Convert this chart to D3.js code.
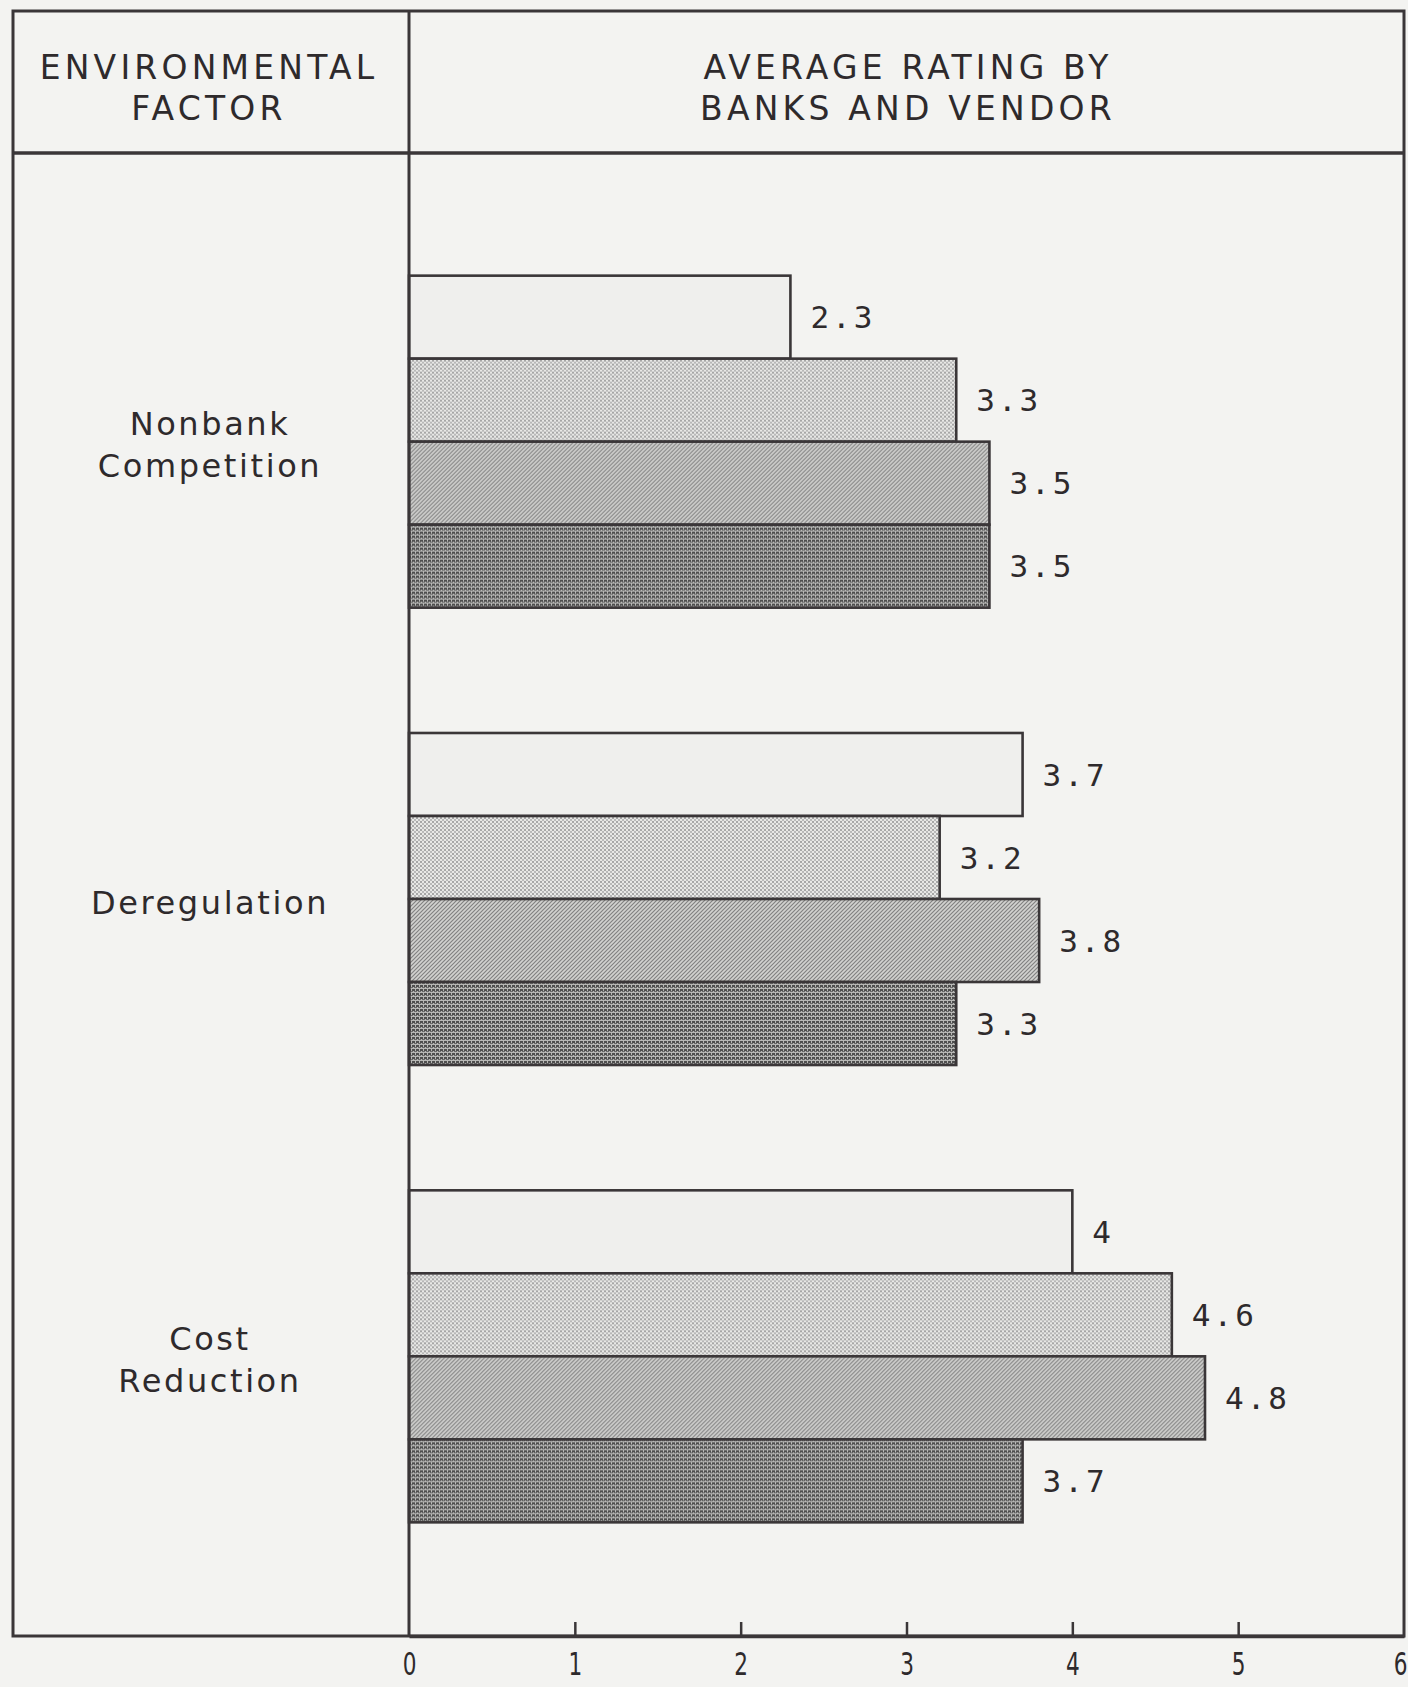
<!DOCTYPE html>
<html>
<head>
<meta charset="utf-8">
<script src="https://cdn.jsdelivr.net/npm/d3@7"></script>
<style>
  html, body { margin: 0; padding: 0; background: #f3f3f1; }
  svg { display: block; }
</style>
</head>
<body>
<svg id="chart" width="1408" height="1687"></svg>
<script>
// Environmental factors rated by banks and vendor
const categories = ["Nonbank Competition", "Deregulation", "Cost Reduction"];
const categoryLines = [["Nonbank", "Competition"], ["Deregulation"], ["Cost", "Reduction"]];
const seriesKeys = ["s1", "s2", "s3", "s4"];
const series1 = [2.3, 3.7, 4];
const series2 = [3.3, 3.2, 4.6];
const series3 = [3.5, 3.8, 4.8];
const series4 = [3.5, 3.3, 3.7];
const tickValues = [0, 1, 2, 3, 4, 5, 6];
const headerLeft = ["ENVIRONMENTAL", "FACTOR"];
const headerRight = ["AVERAGE RATING BY", "BANKS AND VENDOR"];

const seriesValues = [series1, series2, series3, series4];
const rows = categories.map((c, i) => ({
  category: c,
  lines: categoryLines[i],
  values: seriesKeys.map((k, j) => ({ key: k, value: seriesValues[j][i] }))
}));

const ink = "#3a3638";
const textInk = "#2e2a2c";
const svg = d3.select("#chart");

// layout
const frame = { left: 13, top: 11, right: 1404, bottom: 1636 };
const divX = 409;
const headerY = 153;

// fill textures
const defs = svg.append("defs");
const p2 = defs.append("pattern").attr("id", "fill-s2").attr("patternUnits", "userSpaceOnUse")
  .attr("width", 4).attr("height", 4);
p2.append("rect").attr("width", 4).attr("height", 4).attr("fill", "#e8e8e6");
p2.append("rect").attr("x", 0).attr("y", 0).attr("width", 2).attr("height", 2).attr("fill", "#a6a6a6");
p2.append("rect").attr("x", 2).attr("y", 2).attr("width", 2).attr("height", 2).attr("fill", "#b8b8b8");

const p3 = defs.append("pattern").attr("id", "fill-s3").attr("patternUnits", "userSpaceOnUse")
  .attr("width", 4).attr("height", 4);
p3.append("rect").attr("width", 4).attr("height", 4).attr("fill", "#d2d2d0");
p3.append("path").attr("d", "M-1,5 L5,-1 M-1,1 L1,-1 M3,5 L5,3")
  .attr("stroke", "#808080").attr("stroke-width", 1.15);

const p4 = defs.append("pattern").attr("id", "fill-s4").attr("patternUnits", "userSpaceOnUse")
  .attr("width", 4).attr("height", 4);
p4.append("rect").attr("width", 4).attr("height", 4).attr("fill", "#b8b8b6");
p4.append("rect").attr("x", 0).attr("y", 0).attr("width", 3).attr("height", 2).attr("fill", "#4e4e4e");
p4.append("rect").attr("x", 2).attr("y", 2).attr("width", 2).attr("height", 1).attr("fill", "#6a6a6a");
p4.append("rect").attr("x", 0).attr("y", 2).attr("width", 1).attr("height", 1).attr("fill", "#6a6a6a");

const fills = { s1: "#efefed", s2: "url(#fill-s2)", s3: "url(#fill-s3)", s4: "url(#fill-s4)" };

// scales
const x = d3.scaleLinear().domain([0, 6]).range([divX, 1404]);
const y0 = d3.scaleBand().domain(categories).range([213, 1585]).paddingInner(0.274).paddingOuter(0.137);
const y1 = d3.scaleBand().domain(seriesKeys).range([0, y0.bandwidth()]).padding(0);

// bars
const groups = svg.append("g").selectAll("g").data(rows).join("g")
  .attr("transform", d => `translate(0,${y0(d.category)})`);

groups.selectAll("rect").data(d => d.values).join("rect")
  .attr("x", x(0))
  .attr("y", d => y1(d.key))
  .attr("width", d => x(d.value) - x(0))
  .attr("height", y1.bandwidth())
  .attr("fill", d => fills[d.key])
  .attr("stroke", ink)
  .attr("stroke-width", 2.6);

groups.selectAll("text.val").data(d => d.values).join("text")
  .attr("class", "val")
  .attr("x", d => x(d.value) + 20)
  .attr("y", d => y1(d.key) + y1.bandwidth() / 2)
  .attr("dy", "0.36em")
  .attr("font-family", "'DejaVu Sans Mono', 'Liberation Mono', monospace")
  .attr("font-size", 31)
  .attr("letter-spacing", 3)
  .attr("fill", textInk)
  .text(d => String(d.value));

// category labels
const catG = svg.append("g").selectAll("text").data(rows).join("text")
  .attr("x", 210)
  .attr("y", d => y0(d.category) + y0.bandwidth() / 2 + 3)
  .attr("text-anchor", "middle")
  .attr("font-family", "'DejaVu Sans', sans-serif")
  .attr("font-size", 32)
  .attr("letter-spacing", 2.6)
  .attr("fill", textInk);
catG.each(function (d) {
  const n = d.lines.length;
  d3.select(this).selectAll("tspan").data(d.lines).join("tspan")
    .attr("x", 210)
    .attr("dy", (l, i) => i === 0 ? `${0.36 - (n - 1) * 0.65}em` : "1.3em")
    .text(l => l);
});

// header text
function header(lines, cx) {
  svg.append("g").selectAll("text").data(lines).join("text")
    .attr("x", cx)
    .attr("y", (l, i) => 67 + i * 41)
    .attr("dy", "0.36em")
    .attr("text-anchor", "middle")
    .attr("font-family", "'DejaVu Sans', sans-serif")
    .attr("font-size", 33)
    .attr("letter-spacing", 4.2)
    .attr("fill", textInk)
    .text(l => l);
}
header(headerLeft, 209);
header(headerRight, 908);

// frame lines
const lines = svg.append("g").attr("stroke", ink).attr("fill", "none");
lines.append("rect")
  .attr("x", frame.left).attr("y", frame.top)
  .attr("width", frame.right - frame.left).attr("height", frame.bottom - frame.top)
  .attr("stroke-width", 3);
lines.append("line").attr("x1", frame.left).attr("x2", frame.right)
  .attr("y1", headerY).attr("y2", headerY).attr("stroke-width", 3.5);
lines.append("line").attr("x1", divX).attr("x2", divX)
  .attr("y1", frame.top).attr("y2", frame.bottom).attr("stroke-width", 3);

// x axis
const axis = d3.axisBottom(x).tickValues(tickValues).tickSizeInner(-14).tickSizeOuter(0).tickPadding(16)
  .tickFormat(d3.format("d"));
const ax = svg.append("g").attr("transform", `translate(0,${frame.bottom})`).call(axis);
ax.select(".domain").attr("stroke", ink).attr("stroke-width", 3.5);
ax.selectAll(".tick line").attr("stroke", ink).attr("stroke-width", 2.5);
ax.selectAll(".tick text")
  .attr("font-family", "'DejaVu Sans Condensed', 'DejaVu Sans', sans-serif")
  .attr("font-size", 32)
  .attr("fill", textInk)
  .attr("transform", "scale(0.75,1)")
  .attr("x", 0);
// last label sits against the right edge; keep it inside the page
ax.selectAll(".tick").filter(d => d === 6).select("text")
  .attr("text-anchor", "end")
  .attr("x", 3 / 0.75);
ax.selectAll(".tick").filter(d => d === 0 || d === 6).select("line").remove();
</script>
</body>
</html>
